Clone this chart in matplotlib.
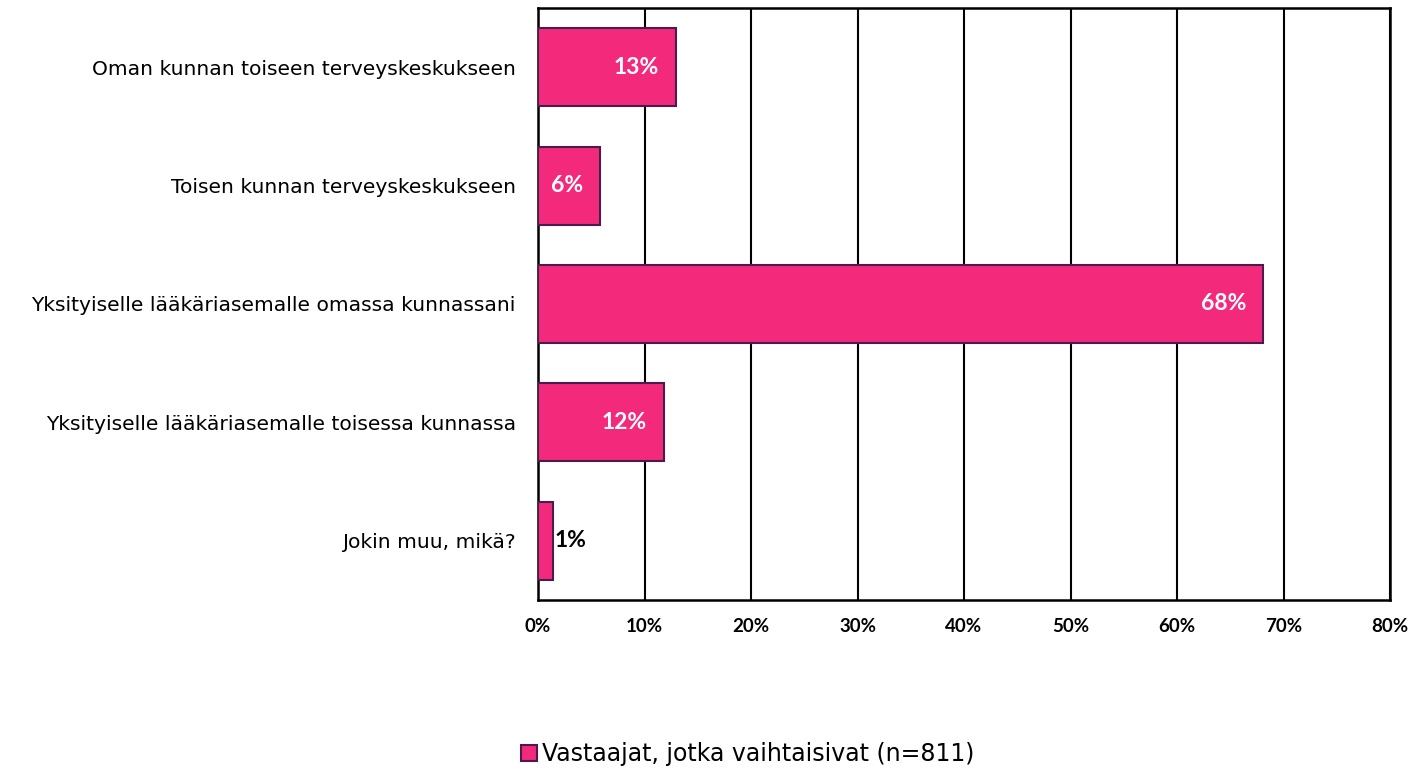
import numpy as np
from matplotlib import pyplot as plt
from matplotlib.ticker import PercentFormatter

categories = ['Oman kunnan toiseen terveyskeskukseen',
              'Toisen kunnan terveyskeskukseen',
              'Yksityiselle lääkäriasemalle omassa kunnassani',
              'Yksityiselle lääkäriasemalle toisessa kunnassa',
              'Jokin muu, mikä?']
values = [12.96, 5.8, 68.1, 11.8, 1.4]
labels = ['13%', '6%', '68%', '12%', '1%']
series_name = 'Vastaajat, jotka vaihtaisivat (n=811)'

fill = '#F32A7B'
edge = '#4B1A4F'

fig = plt.figure(figsize=(14.16, 7.71), dpi=100)
ax = fig.add_axes([538/1416, 1 - 600/771, (1390 - 538)/1416, (600 - 8)/771])

y = np.arange(len(categories))
bars = ax.barh(y, values, height=0.66, color=fill, edgecolor=edge, linewidth=1.5,
               label=series_name, zorder=3)

for b, v, t in zip(bars, values, labels):
    if v > 3:
        ax.text(v - 1.6, b.get_y() + b.get_height() / 2, t, ha='right', va='center',
                color='white', fontsize=16.5, fontweight='bold', family='Lato', zorder=4)
    else:
        ax.text(v + 0.2, b.get_y() + b.get_height() / 2, t, ha='left', va='center',
                color='black', fontsize=16.5, fontweight='bold', family='Lato', zorder=4)

ax.set_xlim(0, 80)
ax.set_ylim(4.5, -0.5)
ax.set_xticks(np.arange(0, 81, 10))
ax.xaxis.set_major_formatter(PercentFormatter(decimals=0))
ax.set_yticks(y)
ax.set_yticklabels(categories, fontsize=14.6, family='DejaVu Sans')
for lab in ax.get_xticklabels():
    lab.set_fontweight('bold')
    lab.set_family('Lato')
    lab.set_fontsize(13.5)
ax.tick_params(axis='x', length=0, pad=13)
ax.tick_params(axis='y', length=0, pad=16)
ax.grid(axis='x', color='black', linewidth=1.5, zorder=0)
for s in ax.spines.values():
    s.set_linewidth(1.8)
    s.set_color('black')

fig.legend(loc='center', bbox_to_anchor=(748/1416, 1 - 754/771), frameon=False,
           fontsize=17, handlelength=0.65, handleheight=0.65, handletextpad=0.25)

plt.savefig('out.png', dpi=100)
